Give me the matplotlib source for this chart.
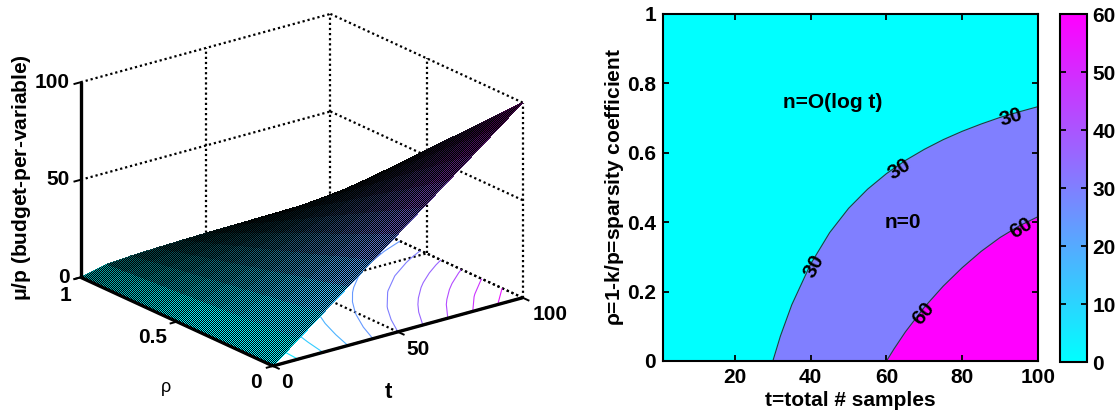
import numpy as np
import matplotlib
matplotlib.use('Agg')
import matplotlib.pyplot as plt
from matplotlib import cm
from matplotlib.colors import Normalize
from matplotlib.path import Path
from matplotlib.transforms import IdentityTransform
from mpl_toolkits.mplot3d import proj3d

plt.rcParams['font.family'] = ['Liberation Sans', 'DejaVu Sans']
plt.rcParams['font.weight'] = 'bold'
plt.rcParams['mathtext.fontset'] = 'dejavusans'

W, H = 1118, 417
FS = 15

# values
t_vals = [0, 10, 20, 30, 40, 50, 60, 70, 80, 90, 100]
rho_vals = [0, 0.1, 0.2, 0.3, 0.4, 0.5, 0.6, 0.7, 0.8, 0.9, 1]
budget = [
    [0, 10, 20, 30, 40, 50, 60, 70, 80, 90, 100],
    [0, 9.3, 18.4, 27.4, 36.5, 45.5, 54.5, 63.6, 72.6, 81.6, 90.6],
    [0, 8.6, 16.8, 24.9, 33, 41, 49.1, 57.1, 65.1, 73.2, 81.2],
    [0, 7.9, 15.2, 22.3, 29.4, 36.5, 43.6, 50.7, 57.7, 64.7, 71.8],
    [0, 7.2, 13.6, 19.8, 25.9, 32, 38.1, 44.2, 50.3, 56.3, 62.4],
    [0, 6.5, 12, 17.2, 22.4, 27.6, 32.7, 37.8, 42.9, 47.9, 53],
    [0, 5.8, 10.3, 14.6, 18.9, 23.1, 27.2, 31.3, 35.4, 39.5, 43.6],
    [0, 5.1, 8.7, 12.1, 15.4, 18.6, 21.7, 24.9, 28, 31, 34.2],
    [0, 4.4, 7.1, 9.5, 11.8, 14.1, 16.2, 18.4, 20.6, 22.6, 24.8],
    [0, 3.7, 5.5, 7, 8.3, 9.6, 10.8, 12, 13.1, 14.2, 15.4],
    [0, 3, 3.9, 4.4, 4.8, 5.1, 5.3, 5.5, 5.7, 5.8, 6],
]
floor_levels = [10, 20, 30, 40, 50, 60, 70, 80, 90]
t_ticks_3d = [0, 50, 100]
rho_ticks_3d = [0, 0.5, 1]
z_ticks_3d = [0, 50, 100]

# region boundaries of the flat plot
t_30 = [30, 32, 35, 40, 45, 50, 55, 60, 65, 70, 75, 80, 85, 90, 95, 100]
rho_30 = [0, 0.072, 0.162, 0.28, 0.37, 0.44, 0.495, 0.54, 0.578, 0.61, 0.638, 0.662, 0.683, 0.702, 0.718, 0.733]
t_60 = [60, 62, 65, 70, 75, 80, 85, 90, 95, 100]
rho_60 = [0, 0.035, 0.084, 0.155, 0.216, 0.269, 0.316, 0.356, 0.389, 0.416]
t_ticks = [20, 40, 60, 80, 100]
rho_ticks = [0, 0.2, 0.4, 0.6, 0.8, 1]
cbar_ticks = [0, 10, 20, 30, 40, 50, 60]
contour_labels = ['30', '30', '30', '60', '60']
label_t = [40.9, 63.3, 92.8, 69.9, 95.5]
label_rho = [0.274, 0.553, 0.703, 0.138, 0.383]
label_angle = [62, 32, 17, 50, 32]

T, R = np.meshgrid(t_vals, rho_vals)
Z = np.array(budget)

fig = plt.figure(figsize=(W / 100, H / 100), dpi=100)

# ------------------------------------------------------------------------------
# left: surface with contours on the floor
ax = fig.add_axes([0.0, 0.0, 0.5, 1.0], projection='3d', proj_type='ortho')
ax.computed_zorder = False
ax.set_axis_off()
ax.patch.set_alpha(0)
ax.view_init(elev=20.8, azim=-127.6)
ax.set_xlim(0, 100)
ax.set_ylim(0, 1)
ax.set_zlim(0, 100)
aspect = (1.51, 1.51, 1)
ax.set_box_aspect(aspect)


def screen(x, y, z):
    shape = np.shape(x)
    xp, yp, _ = proj3d.proj_transform(np.ravel(x), np.ravel(y), np.ravel(z), ax.get_proj())
    pts = ax.transData.transform(np.column_stack([xp, yp]))
    return pts[:, 0].reshape(shape), pts[:, 1].reshape(shape)


# fit the box onto its place in the figure: rho=1 corner x=80, t=100 corner x=522, origin (273,366)
fig.canvas.draw()
x0, _ = screen(0., 1., 0.)
x1, _ = screen(100., 0., 0.)
ax.set_box_aspect(aspect, zoom=442 / float(x1 - x0))
fig.canvas.draw()
ox, oy = screen(0., 0., 0.)
pos = ax.get_position(original=True)
ax.set_position([pos.x0 + (273 - float(ox)) / W, pos.y0 + ((H - 366) - float(oy)) / H, pos.width, pos.height])
fig.canvas.draw()

# dotted box and grid
dot = dict(color='black', linestyle=(0, (1, 1.3)), linewidth=1.6, zorder=1)
for z in z_ticks_3d:
    ax.plot([0, 100], [1, 1], [z, z], **dot)
    ax.plot([100, 100], [0, 1], [z, z], **dot)
for t in t_ticks_3d[1:]:
    ax.plot([t, t], [1, 1], [0, 100], **dot)
    ax.plot([t, t], [0, 1], [0, 0], **dot)
for r in rho_ticks_3d[:-1]:
    ax.plot([100, 100], [r, r], [0, 100], **dot)
    ax.plot([0, 100], [r, r], [0, 0], **dot)

ax.contour(T, R, Z, levels=floor_levels, zdir='z', offset=0, cmap='cool', vmin=0, vmax=100,
           linewidths=0.8, zorder=2)

# the original mesh is so fine that its black edges eat the faces where cells get small on screen
sx, sy = screen(T.astype(float), R.astype(float), Z.astype(float))
d1x, d1y = sx[1:, 1:] - sx[:-1, :-1], sy[1:, 1:] - sy[:-1, :-1]
d2x, d2y = sx[1:, :-1] - sx[:-1, 1:], sy[1:, :-1] - sy[:-1, 1:]
area = np.abs(d1x * d2y - d1y * d2x) / 2 / 100
bright = np.clip(area / 6, 0, 1) ** 1.7
mid = (Z[1:, 1:] + Z[:-1, :-1] + Z[1:, :-1] + Z[:-1, 1:]) / 4
faces = cm.cool(mid / 100)
faces[:, :, :3] *= bright[:, :, None]
ax.plot_surface(T, R, Z, rstride=1, cstride=1, facecolors=faces, linewidth=0,
                antialiased=False, shade=False, zorder=3)

# axis lines and ticks
axis = dict(color='black', linewidth=2.4, zorder=4, solid_capstyle='butt')
ax.plot([0, 0], [1, 1], [0, 100], **axis)
ax.plot([0, 100], [0, 0], [0, 0], **axis)
ax.plot([0, 0], [0, 1], [0, 0], **axis)
tick = dict(color='black', linewidth=1.4, zorder=4)
for z in z_ticks_3d:
    ax.plot([-2.5, 0], [1, 1], [z, z], **tick)
for t in t_ticks_3d:
    ax.plot([t, t], [-0.03, 0], [0, 0], **tick)
for r in rho_ticks_3d:
    ax.plot([-2.5, 0], [r, r], [0, 0], **tick)

for child in ax.get_children():
    child.set_clip_on(False)

# black pixel stipple over the sheet, stands in for the dense mesh lines
yy, xx = np.mgrid[0:H, 0:W]
stipple = np.zeros((H, W, 4))
stipple[..., 3] = (xx + yy) % 2
outline = np.vstack([
    np.column_stack([sx[0, :], sy[0, :]]),
    np.column_stack([sx[:, -1], sy[:, -1]]),
    np.column_stack([sx[-1, ::-1], sy[-1, ::-1]]),
    np.column_stack([sx[::-1, 0], sy[::-1, 0]]),
])
im = fig.figimage(stipple, origin='lower', zorder=2, resize=False)
im.set_clip_path(Path(outline), IdentityTransform())


def label_at(x, y, z, dx, dy, text, **kw):
    px, py = screen(float(x), float(y), float(z))
    fig.text((float(px) + dx) / W, (float(py) - dy) / H, text, fontsize=FS, fontweight='bold',
             ha=kw.pop('ha', 'center'), va=kw.pop('va', 'center'), **kw)


for t, dx, dy in zip(t_ticks_3d, [14, 20, 27], [17, 18, 17]):
    label_at(t, 0, 0, dx, dy, f'{t:g}')
for r, dx, dy in zip(rho_ticks_3d, [-17, -24, -15], [16, 16, 18]):
    label_at(0, r, 0, dx, dy, f'{r:g}')
for z in z_ticks_3d:
    label_at(0, 1, z, -11, 0, f'{z:g}', ha='right')
fig.text(388 / W, 1 - 392 / H, 't', fontsize=16, fontweight='bold', ha='center', va='center')
fig.text(166 / W, 1 - 389 / H, r'$\mathregular{\rho}$', fontsize=13, fontweight='normal', ha='center', va='center')
fig.text(22 / W, 1 - 178 / H, r'$\mathregular{\mu}$/p (budget-per-variable)', fontsize=FS, fontweight='bold',
         rotation=90, ha='center', va='center')

# ------------------------------------------------------------------------------
# right: the same surface as three regions
ax2 = fig.add_axes([663 / W, 1 - 361 / H, 375 / W, 347 / H])
cool = plt.get_cmap('cool')
ax2.set_facecolor(cool(0.0))
ax2.fill_between(t_30, rho_30, 0, color=cool(0.5), linewidth=0)
ax2.fill_between(t_60, rho_60, 0, color=cool(1.0), linewidth=0)
ax2.plot(t_30, rho_30, color='#303040', linewidth=0.8)
ax2.plot(t_60, rho_60, color='#303040', linewidth=0.8)
for txt, t, r, ang in zip(contour_labels, label_t, label_rho, label_angle):
    ax2.text(t, r, txt, fontsize=FS, fontweight='bold', rotation=ang, rotation_mode='anchor',
             ha='center', va='center')
ax2.set_xlim(1, 100)
ax2.set_ylim(0, 1)
ax2.set_xticks(t_ticks)
ax2.set_yticks(rho_ticks)
ax2.set_yticklabels([f'{r:g}' for r in rho_ticks])
ax2.tick_params(direction='in', top=True, right=True, length=4, width=1.3, labelsize=FS, pad=5)
for s in ax2.spines.values():
    s.set_linewidth(1.5)
ax2.text(32.7, 0.746, 'n=O(log t)', fontsize=FS, fontweight='bold', ha='left', va='center')
ax2.text(64.4, 0.398, 'n=0', fontsize=FS, fontweight='bold', ha='center', va='center')
fig.text(850 / W, 1 - 400 / H, 't=total # samples', fontsize=FS, fontweight='bold', ha='center', va='center')
fig.text(615 / W, 1 - 187 / H, r'$\mathregular{\rho}$=1-k/p=sparsity coefficient', fontsize=FS, fontweight='bold',
         rotation=90, ha='center', va='center')

cax = fig.add_axes([1060 / W, 1 - 362 / H, 27 / W, 348 / H])
cbar = fig.colorbar(cm.ScalarMappable(Normalize(0, 60), cmap='cool'), cax=cax, ticks=cbar_ticks)
cax.tick_params(direction='in', left=True, right=True, length=4, width=1.3, labelsize=FS, pad=4)
cbar.outline.set_linewidth(1.5)

fig.savefig('out.png', dpi=100)
